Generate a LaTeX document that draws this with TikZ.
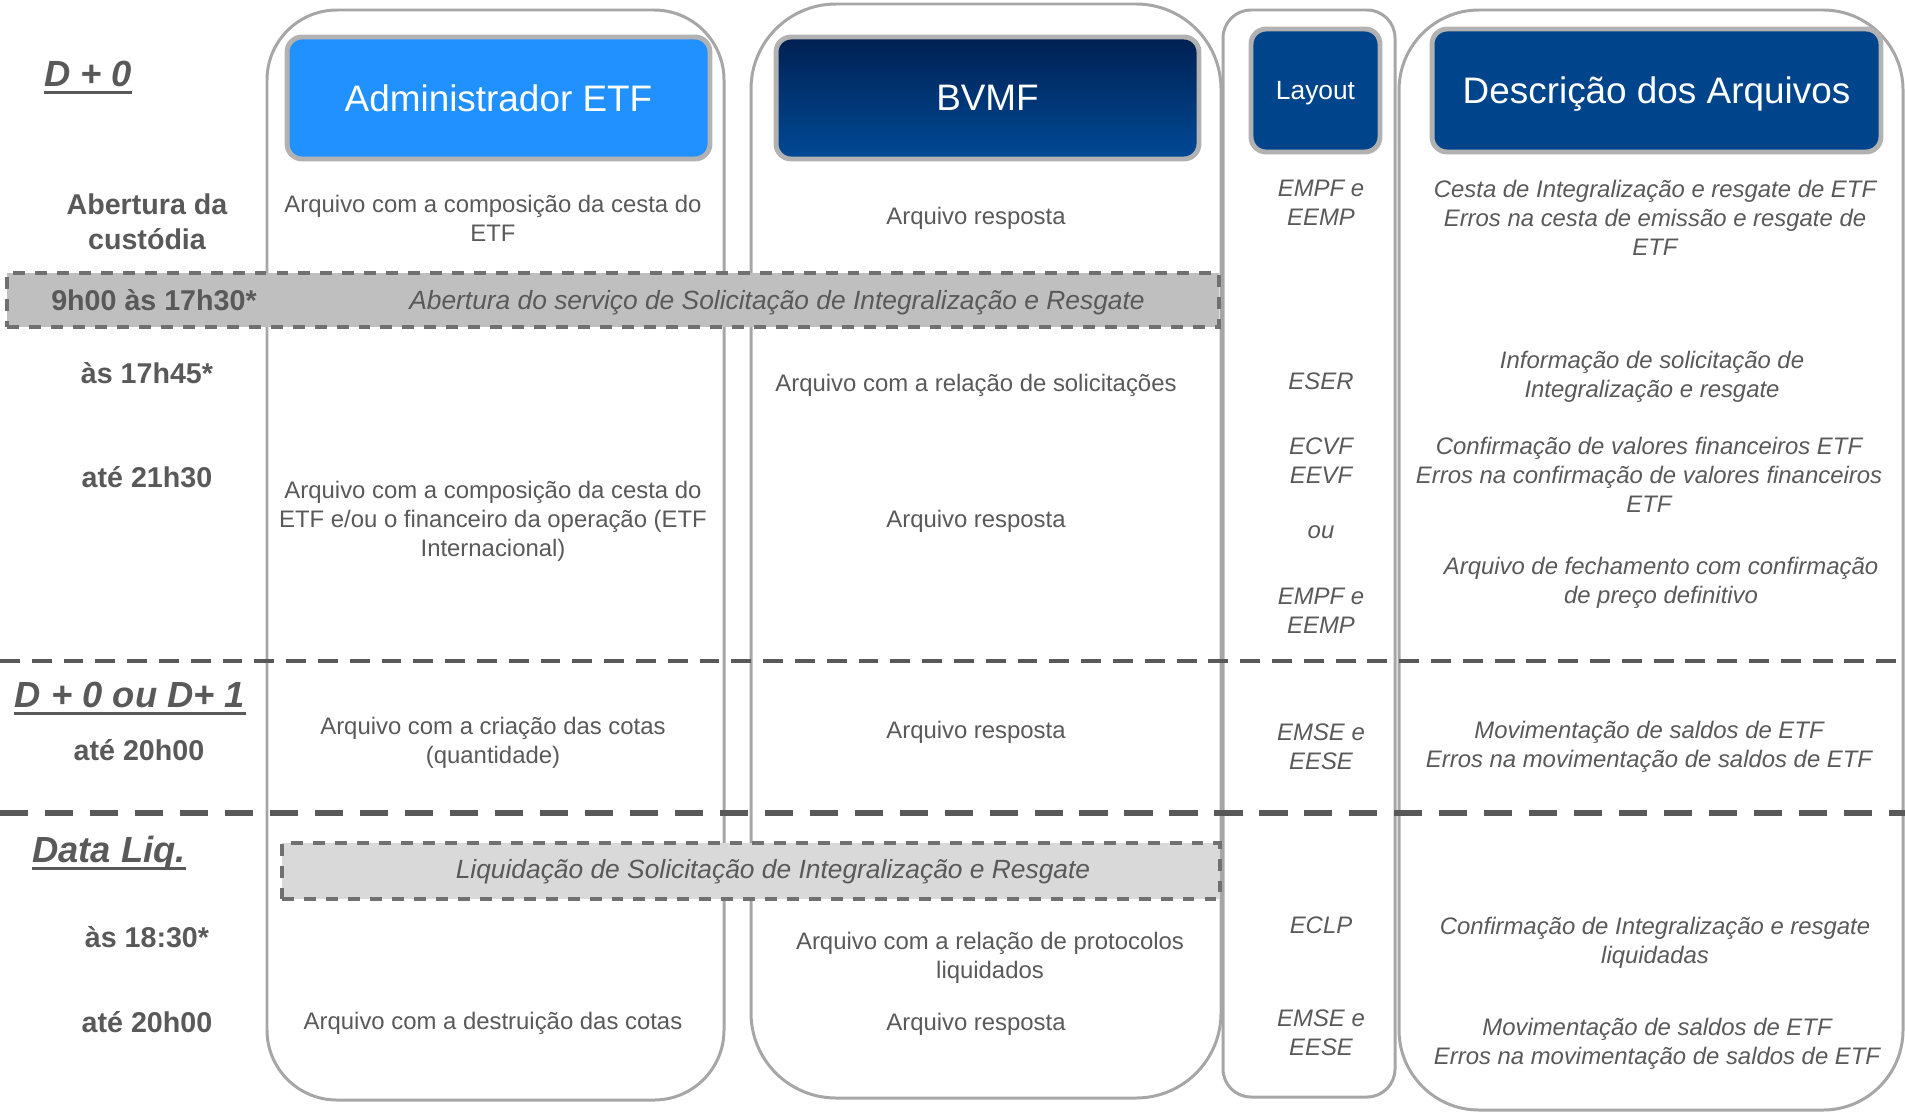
\documentclass[tikz,border=0pt]{standalone}
\usepackage{fontspec}
\setmainfont{Liberation Sans}
\usetikzlibrary{positioning}

\definecolor{admblue}{RGB}{33,145,255}
\definecolor{bvmftop}{RGB}{0,32,82}
\definecolor{bvmfbot}{RGB}{0,74,150}
\definecolor{laynavy}{RGB}{0,69,139}
\definecolor{framegray}{RGB}{166,166,166}
\definecolor{halogray}{RGB}{178,178,178}
\definecolor{txtgray}{RGB}{89,89,89}
\definecolor{bandgray}{RGB}{112,112,112}
\definecolor{bandfillA}{RGB}{191,191,191}
\definecolor{bandfillB}{RGB}{217,217,217}

\begin{document}
\begin{tikzpicture}[x=0.02cm, y=-0.02cm,
    colframe/.style={draw=framegray, line width=1.7pt},
    headbox/.style={draw=halogray, line width=2.8pt, rounded corners=0.3cm, text=white, inner sep=0pt, text depth=0pt},
    body/.style={align=center, text=txtgray, yshift=-1.5pt, font=\fontsize{13.6}{16.5}\selectfont},
    layfile/.style={align=center, text=txtgray, yshift=-1.5pt, font=\fontsize{13.6}{16.5}\selectfont\itshape},
    when/.style={align=center, text=txtgray, font=\fontsize{16.3}{19.9}\selectfont\bfseries},
    daytag/.style={text=txtgray, inner sep=0pt, font=\fontsize{20.7}{24}\selectfont\bfseries\itshape},
    bandtext/.style={text=txtgray, yshift=-1.5pt, font=\fontsize{15}{18}\selectfont\itshape},
    underbar/.style={draw=txtgray, line width=1.6pt},
    band/.style={draw=bandgray, line width=2.3pt, dash pattern=on 6.8pt off 5.7pt, inner sep=0pt},
    dayline/.style={draw=txtgray, dash pattern=on 11.3pt off 6.8pt}]
    \useasboundingbox (0,0) rectangle (1905,1112);
    \clip (0,0) rectangle (1905,1112);

    % Columns
    \draw [colframe, rounded corners=1.4cm] (267,10) rectangle (724,1100);
    \draw [colframe, rounded corners=1.7cm] (751,4) rectangle (1221,1098);
    \draw [colframe, rounded corners=0.56cm] (1223,10) rectangle (1395,1097);
    \draw [colframe, rounded corners=1.6cm] (1399,10) rectangle (1903,1110);

    % Separators
    \draw [dayline, line width=2.3pt] (0,661) -- (1905,661);
    \draw [dayline, line width=3.4pt, dash pattern=on 16pt off 9.6pt] (0,813) -- (1905,813);

    % Headers
    \node [headbox, fill=admblue, minimum width=8.46cm, minimum height=2.44cm, font=\fontsize{21}{25}\selectfont] (Adm) at (498.5,98) {Administrador ETF};
    \node [headbox, top color=bvmftop, bottom color=bvmfbot, minimum width=8.46cm, minimum height=2.44cm, font=\fontsize{21}{25}\selectfont] (Bvmf) at (987.5,98) {BVMF};
    \node [headbox, fill=laynavy, minimum width=2.58cm, minimum height=2.46cm, font=\fontsize{15}{18}\selectfont] (Lay) at (1315.5,90.5) {Layout};
    \node [headbox, fill=laynavy, minimum width=8.98cm, minimum height=2.46cm, font=\fontsize{21}{25}\selectfont] (Desc) at (1656.5,90.5) {Descrição dos Arquivos};

    % Bands
    \node [band, fill=bandfillA, minimum width=24.24cm, minimum height=1.08cm] (BandA) at (613,300) {};
    \node [when] (WhenA) at (154,300) {9h00 às 17h30*};
    \node [bandtext] (BandAtxt) at (777,300) {Abertura do serviço de Solicitação de Integralização e Resgate};
    \node [band, fill=bandfillB, minimum width=18.76cm, minimum height=1.12cm] (BandB) at (751,871) {};
    \node [bandtext] (BandBtxt) at (773,869) {Liquidação de Solicitação de Integralização e Resgate};

    % Day and time labels
    \node [daytag] (DayA) at (88,74) {D + 0};
    \draw [underbar] ([yshift=-3.5pt]DayA.base west) -- ([yshift=-3.5pt]DayA.base east);
    \node [when] (Custody) at (147,222) {Abertura da\\custódia};
    \node [when] (WhenB) at (147,373) {às 17h45*};
    \node [when] (WhenC) at (147,477) {até 21h30};
    \node [daytag] (DayB) at (130,695) {D + 0 ou D+ 1};
    \draw [underbar] ([yshift=-3.5pt]DayB.base west) -- ([yshift=-3.5pt]DayB.base east);
    \node [when] (WhenD) at (139,750) {até 20h00};
    \node [daytag] (DayC) at (109,853) {Data Liq.};
    \draw [underbar] ([yshift=-3.5pt]DayC.base west) -- ([yshift=-3.5pt]DayC.base east);
    \node [when] (WhenE) at (147,937) {às 18:30*};
    \node [when] (WhenF) at (147,1022) {até 20h00};

    % Administrador ETF
    \node [body] (AdmA) at (493,216) {Arquivo com a composição da cesta do\\ETF};
    \node [body] (AdmB) at (493,519) {Arquivo com a composição da cesta do\\ETF e/ou o financeiro da operação (ETF\\Internacional)};
    \node [body] (AdmC) at (493,740) {Arquivo com a criação das cotas\\(quantidade)};
    \node [body] (AdmD) at (493,1021) {Arquivo com a destruição das cotas};

    % BVMF
    \node [body] (BvmfA) at (976,216) {Arquivo resposta};
    \node [body] (BvmfB) at (976,383) {Arquivo com a relação de solicitações};
    \node [body] (BvmfC) at (976,519) {Arquivo resposta};
    \node [body] (BvmfD) at (976,730) {Arquivo resposta};
    \node [body] (BvmfE) at (990,955) {Arquivo com a relação de protocolos\\liquidados};
    \node [body] (BvmfF) at (976,1022) {Arquivo resposta};

    % Layout
    \node [layfile] (LayA) at (1321,200) {EMPF e\\EEMP};
    \node [layfile] (LayB) at (1321,379) {ESER};
    \node [layfile] (LayC) at (1321,458) {ECVF\\EEVF};
    \node [layfile] (LayD) at (1321,530) {ou};
    \node [layfile] (LayE) at (1321,608) {EMPF e\\EEMP};
    \node [layfile] (LayF) at (1321,744) {EMSE e\\EESE};
    \node [layfile] (LayG) at (1321,923) {ECLP};
    \node [layfile] (LayH) at (1321,1030) {EMSE e\\EESE};

    % Descricao dos Arquivos
    \node [layfile] (DescA) at (1655,215) {Cesta de Integralização e resgate de ETF\\Erros na cesta de emissão e resgate de\\ETF};
    \node [layfile] (DescB) at (1652,374) {Informação de solicitação de\\Integralização e resgate};
    \node [layfile] (DescC) at (1649,472) {Confirmação de valores financeiros ETF\\Erros na confirmação de valores financeiros\\ETF};
    \node [layfile] (DescD) at (1661,580) {Arquivo de fechamento com confirmação\\de preço definitivo};
    \node [layfile] (DescE) at (1649,744) {Movimentação de saldos de ETF\\Erros na movimentação de saldos de ETF};
    \node [layfile] (DescF) at (1655,940) {Confirmação de Integralização e resgate\\liquidadas};
    \node [layfile] (DescG) at (1657,1041) {Movimentação de saldos de ETF\\Erros na movimentação de saldos de ETF};
\end{tikzpicture}
\end{document}
